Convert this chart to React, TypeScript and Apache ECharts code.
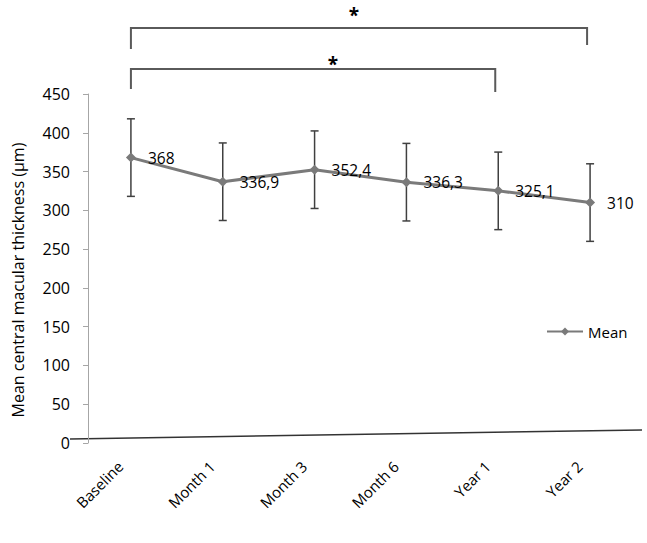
import React, { useEffect, useRef } from "react";
import * as echarts from "echarts";

const categories = ["Baseline", "Month 1", "Month 3", "Month 6", "Year 1", "Year 2"];
const meanValues = [368, 336.9, 352.4, 336.3, 325.1, 310];
const sdValues = [50, 50, 50, 50, 50, 50];
const yTicks = { min: 0, max: 450, interval: 50 };
const seriesName = "Mean";
const yAxisTitle = "Mean central macular thickness (µm)";
// significance brackets: [fromIndex, toIndex, label]
const brackets: [number, number, string][] = [
  [0, 5, "*"],
  [0, 4, "*"],
];

const FONT = "'Open Sans', 'Noto Sans', sans-serif";

export default function App() {
  const ref = useRef<HTMLDivElement>(null);
  useEffect(() => {
    document.body.style.margin = "0";
    if (!ref.current) return;
    const chart = echarts.init(ref.current, undefined, { renderer: "svg" });
    const errData = meanValues.map((m, i) => [i, m - sdValues[i], m + sdValues[i]]);
    chart.setOption({
      animation: false,
      backgroundColor: "#ffffff",
      textStyle: { fontFamily: FONT },
      grid: { left: 85, top: 94, width: 551, height: 349, containLabel: false },
      legend: {
        data: [seriesName],
        left: 541,
        top: 319,
        itemWidth: 36,
        itemHeight: 10,
        itemGap: 6,
        textStyle: { fontSize: 15, color: "#000", fontFamily: FONT },
      },
      xAxis: {
        type: "category",
        data: categories,
        boundaryGap: true,
        axisLine: { show: false },
        axisTick: { show: false },
        axisLabel: {
          rotate: 45,
          margin: 10,
          padding: [0, 15, 0, 0],
          fontSize: 15,
          color: "#000",
          fontFamily: FONT,
          interval: 0,
        },
        splitLine: { show: false },
      },
      yAxis: {
        type: "value",
        min: yTicks.min,
        max: yTicks.max,
        interval: yTicks.interval,
        offset: -3,
        axisLine: { show: true, lineStyle: { color: "#a6a6a6", width: 1 } },
        axisTick: { show: true, length: 5, lineStyle: { color: "#a6a6a6" } },
        axisLabel: { fontSize: 16, color: "#000", margin: 18, fontFamily: FONT },
        splitLine: { show: false },
      },
      series: [
        {
          type: "custom",
          name: "sd",
          z: 1,
          data: errData,
          encode: { x: 0, y: [1, 2] },
          renderItem: (params: any, api: any) => {
            const x = api.value(0);
            const lo = api.coord([x, api.value(1)]);
            const hi = api.coord([x, api.value(2)]);
            const hw = 4;
            const style = { stroke: "#404040", lineWidth: 1.5 };
            return {
              type: "group",
              children: [
                { type: "line", shape: { x1: lo[0], y1: lo[1], x2: hi[0], y2: hi[1] }, style },
                { type: "line", shape: { x1: lo[0] - hw, y1: lo[1], x2: lo[0] + hw, y2: lo[1] }, style },
                { type: "line", shape: { x1: hi[0] - hw, y1: hi[1], x2: hi[0] + hw, y2: hi[1] }, style },
              ],
            };
          },
        },
        {
          type: "line",
          name: seriesName,
          z: 3,
          data: meanValues,
          symbol: "diamond",
          symbolSize: 10,
          lineStyle: { color: "#7a7a7a", width: 3 },
          itemStyle: { color: "#7a7a7a" },
          label: {
            show: true,
            position: "right",
            distance: 12,
            fontSize: 15.5,
            color: "#000",
            fontFamily: FONT,
            formatter: (p: any) => String(p.value).replace(".", ","),
          },
        },
      ],
    });

    const g: any[] = [];
    // slanted baseline line as in the reference
    g.push({
      type: "line",
      shape: { x1: 70, y1: 439, x2: 642, y2: 430 },
      style: { stroke: "#333", lineWidth: 1.5 },
    });
    // y axis title
    g.push({
      type: "text",
      x: 18,
      y: 280,
      rotation: Math.PI / 2,
      style: {
        text: yAxisTitle,
        font: "16px " + FONT,
        fill: "#000",
        textAlign: "center",
        textVerticalAlign: "middle",
      },
    });
    const tops = [28, 69];
    const legL = [21, 20];
    const legR = [17, 23];
    const starX = [354, 333];
    const starY = [15, 64];
    brackets.forEach(([a, b, lab], k) => {
      const xa = chart.convertToPixel({ xAxisIndex: 0 }, a) as number;
      const xb = (chart.convertToPixel({ xAxisIndex: 0 }, b) as number) - 3;
      const y = tops[k];
      const st = { stroke: "#5a5a5a", lineWidth: 2, fill: "none" };
      g.push({
        type: "polyline",
        shape: { points: [[xa, y + legL[k]], [xa, y], [xb, y], [xb, y + legR[k]]] },
        style: st,
      });
      g.push({
        type: "text",
        x: starX[k],
        y: starY[k],
        style: {
          text: lab,
          font: "bold 19px " + FONT,
          fill: "#000",
          textAlign: "center",
          textVerticalAlign: "middle",
        },
      });
    });
    chart.setOption({ graphic: g });
    return () => chart.dispose();
  }, []);
  return <div ref={ref} style={{ width: 647, height: 543 }} />;
}
